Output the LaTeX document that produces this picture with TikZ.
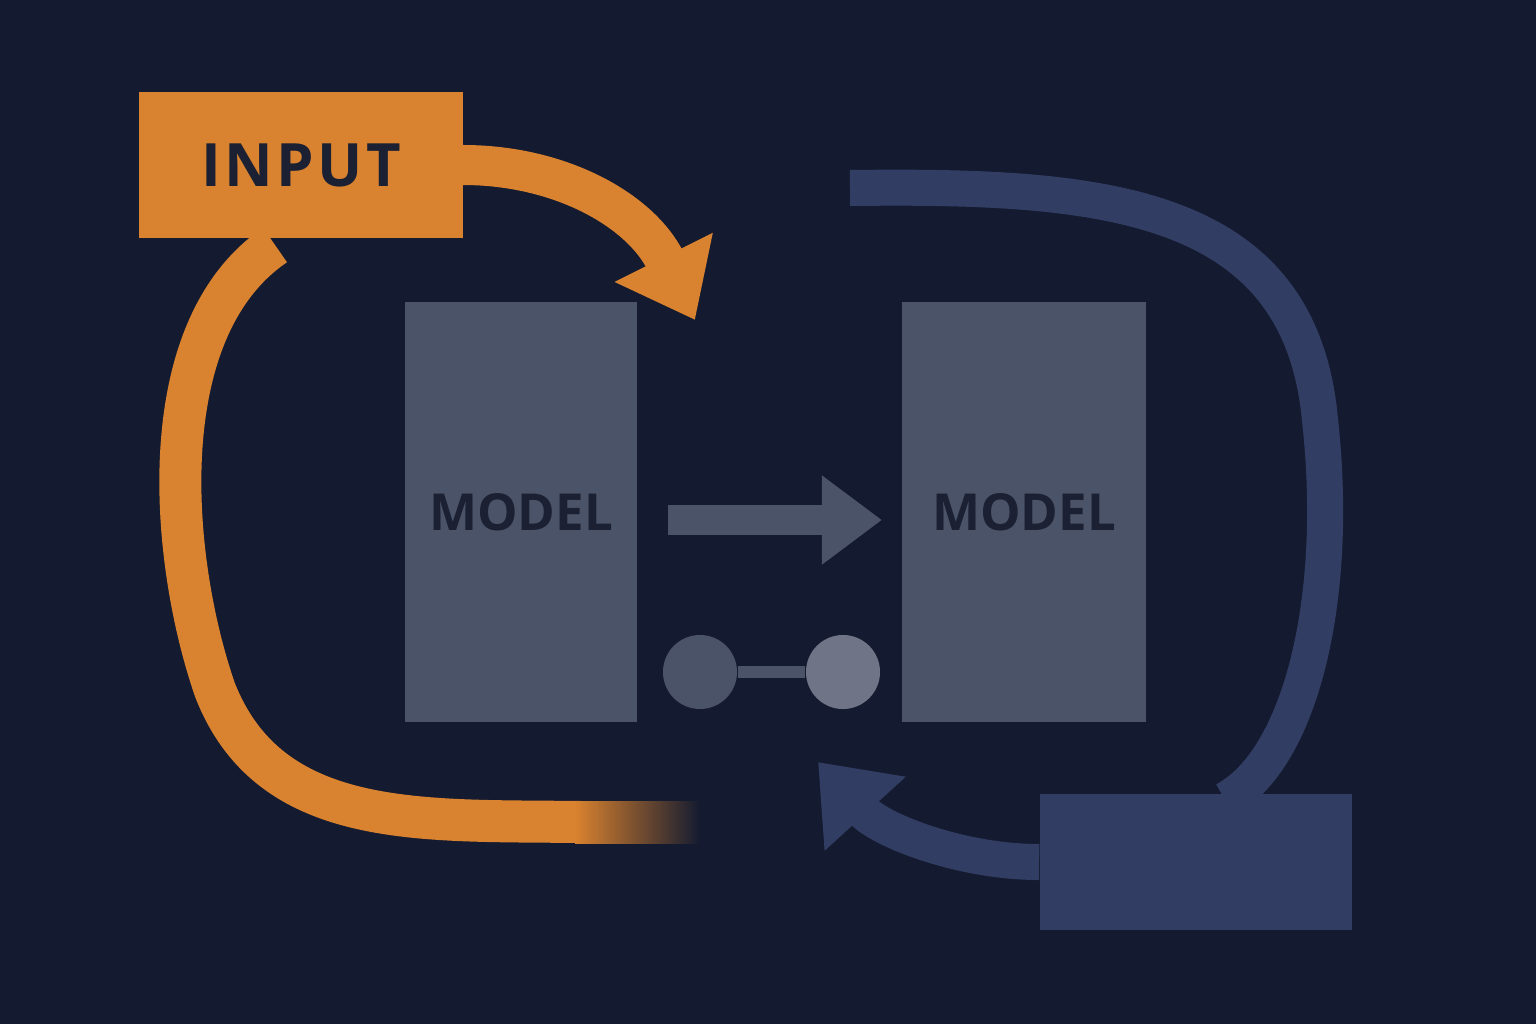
\documentclass[tikz,border=0pt]{standalone}
\usepackage{fontspec}
\setmainfont{Open Sans}
\usetikzlibrary{arrows.meta}
\definecolor{bg}{HTML}{141B30}
\definecolor{orng}{HTML}{D9822F}
\definecolor{slate}{HTML}{4B5368}
\definecolor{navy}{HTML}{323D63}
\definecolor{ink}{HTML}{1B2133}
\begin{document}
\begin{tikzpicture}[x=0.01cm,y=-0.01cm,
    box/.style={fill=slate, inner sep=0pt},
    lbl/.style={font=\bfseries\fontsize{14.5}{14.5}\selectfont,text=ink}]
    \fill [bg] (0,0) rectangle (1536,1024);
    \useasboundingbox (0,0) rectangle (1536,1024);
    % orange loop
    \draw [orng, line width=0.42cm] (275,245) .. controls (150,330) and (170,560) .. (215,690)
        .. controls (270,830) and (420,820) .. (580,822);
    \shade [left color=orng, right color=bg] (575,801) rectangle (700,843);
    % input box
    \node (input) [fill=orng, inner sep=0pt, minimum width=3.23cm, minimum height=1.46cm,
        font=\bfseries\fontsize{17}{17}\selectfont, text=ink] at (301,165) {I\kern1pt N\kern1pt P\kern1pt U\kern1pt T};
    \coordinate (inTip) at (695,320);
    \draw [orng, line width=0.4cm, -{Triangle[length=0.7cm,width=1.05cm]}] (463,165) .. controls (560,165) and (640,210) .. (inTip);
    % models
    \node (m1) [box, minimum width=2.32cm, minimum height=4.19cm, lbl] at (521,512) {MODEL};
    \node (m2) [box, minimum width=2.44cm, minimum height=4.19cm, lbl] at (1024,512) {MODEL};
    \draw [slate, line width=0.3cm, -{Triangle[length=0.6cm,width=0.85cm]}] (668,520) -- (882,520);
    % link
    \node (c1) [circle, fill=slate, minimum size=0.74cm] at (700,672) {};
    \node (c2) [circle, fill=slate!80!white, minimum size=0.74cm] at (843,672) {};
    \draw [slate, line width=0.12cm] (c1) -- (c2);
    % blue loop
    \node (out) [fill=navy, inner sep=0pt, minimum width=3.12cm, minimum height=1.35cm] at (1196,862) {};
    \draw [navy, line width=0.36cm] (850,188) .. controls (1100,185) and (1300,200) .. (1320,420)
        .. controls (1340,600) and (1300,760) .. (1225,800);
    \coordinate (outTip) at (818,762);
    \draw [navy, line width=0.36cm, -{Triangle[length=0.7cm,width=1.05cm]}] (out.west) .. controls (960,862) and (880,830) .. (outTip);
\end{tikzpicture}
\end{document}
